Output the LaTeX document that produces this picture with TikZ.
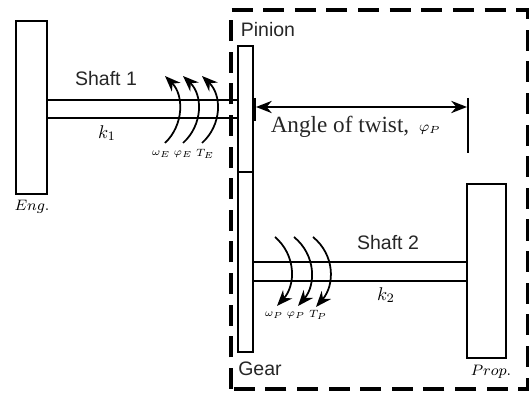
\documentclass[tikz,border=0pt]{standalone}
\usepackage{fix-cm}
\usepackage{fontspec}
\setmainfont{Liberation Serif}
\setsansfont{Liberation Sans}
\usetikzlibrary{arrows.meta}
\tikzset{
    part/.style={draw=black, line width=1.5pt, fill=white},
    shaftline/.style={black, line width=1.6pt},
    torque/.style={black, line width=1pt, -{Stealth[length=9pt, width=7pt]}},
    sanslabel/.style={inner sep=0pt, font=\sffamily\fontsize{11.1}{13}\selectfont, text=black!85},
    twistlabel/.style={inner sep=0pt, font=\rmfamily\fontsize{13.2}{15}\selectfont, text=black!85},
    mathlabel/.style={inner sep=0pt, font=\fontsize{10.5}{12}\selectfont},
    smalllabel/.style={inner sep=0pt, font=\fontsize{6}{7}\selectfont},
    namelabel/.style={inner sep=0pt, font=\fontsize{8.6}{10}\selectfont},
}
\begin{document}
\begin{tikzpicture}[x=0.02cm, y=-0.02cm]
        \useasboundingbox (0, 0) rectangle (529, 394);

        % Draw dashed boundary
        \draw[black, line width=1.9pt, dash pattern=on 12pt off 6pt] (231, 389) -- (231, 10) -- (528, 10) -- (528, 389) -- cycle;

        % Draw shafts
        \draw[shaftline] (47, 100) -- (238, 100);
        \draw[shaftline] (47, 118) -- (238, 118);
        \draw[shaftline] (253, 262) -- (467, 262);
        \draw[shaftline] (253, 281) -- (467, 281);

        % Draw inertias
        \draw[part] (16, 21) rectangle (47, 194);
        \draw[part] (238, 46) rectangle (253, 172);
        \draw[part] (238, 172) rectangle (253, 352);
        \draw[part] (467, 184) rectangle (506, 358);

        % Angle of twist
        \draw[black, line width=1.5pt] (255, 98) -- (255, 121);
        \draw[black, line width=1pt] (468, 98) -- (468, 153);
        \draw[black, line width=1pt, {Stealth[length=9pt, width=7pt]}-{Stealth[length=9pt, width=7pt]}] (256, 107) -- (467, 107);

        % Engine side arrows
        \draw[torque] (165, 143) .. controls (184, 125) and (184, 95) .. (165, 76);
        \draw[torque] (183, 143) .. controls (203, 125) and (203, 95) .. (183, 76);
        \draw[torque] (202, 143) .. controls (222, 125) and (222, 95) .. (202, 76);

        % Propeller side arrows
        \draw[torque] (275, 237) .. controls (296, 255) and (296, 285) .. (277, 306);
        \draw[torque] (294, 237) .. controls (316, 255) and (316, 285) .. (298, 306);
        \draw[torque] (313, 237) .. controls (335, 255) and (335, 285) .. (316, 307);

        % Labels
        \node[sanslabel] (shaftone) at (106, 79) {Shaft 1};
        \node[sanslabel] (shafttwo) at (388, 243) {Shaft 2};
        \node[sanslabel] (pinion) at (268, 30) {Pinion};
        \node[sanslabel] (gear) at (260, 369) {Gear};
        \node[twistlabel] (twist) at (340, 127) {Angle of twist,};
        \node[smalllabel, font=\fontsize{8.4}{10}\selectfont] (twistphi) at (430, 130) {$\varphi_P$};
        \node[mathlabel] (kone) at (107, 133) {$k_1$};
        \node[mathlabel] (ktwo) at (386, 295) {$k_2$};
        \node[namelabel] (eng) at (32, 207) {$Eng.$};
        \node[namelabel] (prop) at (491, 372) {$Prop.$};
        \node[smalllabel] (omegaE) at (161, 154) {$\omega_E$};
        \node[smalllabel] (phiE) at (183, 154) {$\varphi_E$};
        \node[smalllabel] (torqueE) at (205, 154) {$T_E$};
        \node[smalllabel] (omegaP) at (274, 315) {$\omega_P$};
        \node[smalllabel] (phiP) at (296, 315) {$\varphi_P$};
        \node[smalllabel] (torqueP) at (318, 315) {$T_P$};
\end{tikzpicture}
\end{document}
